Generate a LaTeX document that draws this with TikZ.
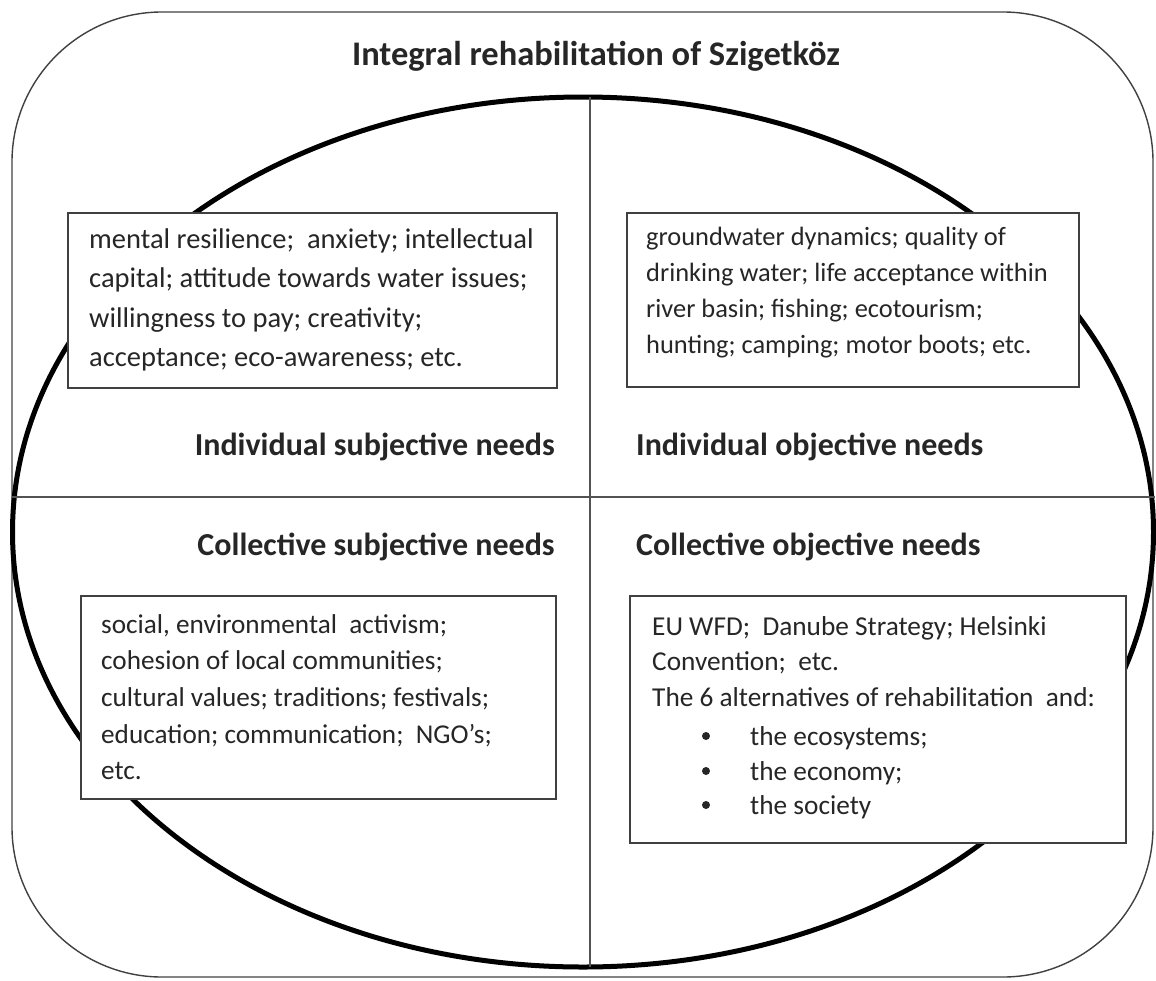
\documentclass[tikz,border=0pt]{standalone}
\usepackage{fontspec}
\setmainfont{Carlito}
\usetikzlibrary{shapes.geometric}
\definecolor{ink}{HTML}{262626}
\definecolor{frame}{HTML}{404040}
% a top-aligned block of lines whose reference point is the first baseline
% #1 font size, #2 line spacing, #3 lines
\newcommand{\textblock}[3]{\parbox[t]{480pt}{\raggedright\fontsize{#1}{#2}\selectfont #3}}
\begin{document}
\begin{tikzpicture}[x=1pt,y=-1pt,
  body/.style={inner sep=0pt, anchor=base west, text=ink},
  item/.style={inner sep=0pt, anchor=base west, text=ink, font=\fontsize{27.3}{33}\selectfont},
  heading/.style={inner sep=0pt, text=ink, font=\fontsize{32}{38}\selectfont\bfseries},
  itembox/.style={draw=frame, line width=1.6pt, anchor=north west, inner sep=0pt, fill=white},
  divider/.style={draw=frame!90, line width=1.8pt}]
\useasboundingbox (0,0) rectangle (1156,980);
% outer frame
\draw[draw=frame, line width=1.4pt, rounded corners=150pt] (12,12) rectangle (1153,977);
% central oval
\node[ellipse, draw=black, line width=5pt, minimum width=1141pt, minimum height=870pt, inner sep=0pt] (oval) at (583,532) {};
% quadrant dividers
\draw[divider] (590,97) -- (590,967);
\draw[divider] (12,497) -- (1155,497);
% title
\node[heading, anchor=base, font=\fontsize{34.5}{40}\selectfont\bfseries] (title) at (596,65) {Integral rehabilitation of Szigetköz};
% quadrant headings
\node[heading, anchor=base east] (isn) at (555,455) {Individual subjective needs};
\node[heading, anchor=base west] (ion) at (636,455) {Individual objective needs};
\node[heading, anchor=base east] (csn) at (555,555) {Collective subjective needs};
\node[heading, anchor=base west] (con) at (636,555) {Collective objective needs};
% boxes
\node[itembox, minimum width=489pt, minimum height=175pt] (b1) at (67,212) {};
\node[itembox, minimum width=452pt, minimum height=174pt] (b2) at (626,212) {};
\node[itembox, minimum width=475pt, minimum height=203pt] (b3) at (80,595) {};
\node[itembox, minimum width=496pt, minimum height=247pt] (b4) at (629,595) {};
% box contents
\node[body] (t1) at (89,248) {\textblock{28.5}{39.5}{mental resilience;\ \ anxiety; intellectual\\capital; attitude towards water issues;\\willingness to pay; creativity;\\acceptance; eco-awareness; etc.}};
\node[body] (t2) at (646,245) {\textblock{26.4}{36}{groundwater dynamics; quality of\\drinking water; life acceptance within\\river basin; fishing; ecotourism;\\hunting; camping; motor boots; etc.}};
\node[body] (t3) at (101,633) {\textblock{27.2}{36.7}{social, environmental\ \ activism;\\cohesion of local communities;\\cultural values; traditions;\ festivals;\\education; communication;\ \ NGO’s;\\etc.}};
\node[body] (t4) at (652,635) {\textblock{27.3}{35.5}{EU WFD;\ \ Danube Strategy; Helsinki\\Convention;\ \ etc.\\The 6 alternatives of rehabilitation\ \ and:}};
\node[item] (i1) at (750,745) {the ecosystems;};
\node[item] (i2) at (750,780) {the economy;};
\node[item] (i3) at (750,814) {the society};
\foreach \n in {i1,i2,i3}
  \fill[ink] ([xshift=-44pt,yshift=9pt]\n.base west) circle (4pt);
\end{tikzpicture}
\end{document}
